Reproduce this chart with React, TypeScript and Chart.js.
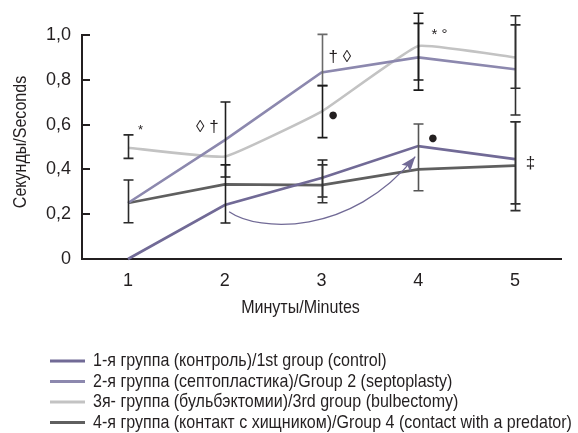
import React, { useEffect, useRef } from "react";
import { Chart, registerables } from "chart.js";

Chart.register(...registerables);

// ---- data ----
const minutes = [1, 2, 3, 4, 5];
const xTickLabels = ["1", "2", "3", "4", "5"];
const yTickValues = [0, 0.2, 0.4, 0.6, 0.8, 1.0];
const yTickLabels = ["0", "0,2", "0,4", "0,6", "0,8", "1,0"];

const group1 = [0, 0.241, 0.362, 0.504, 0.446];
const group2 = [0.25, 0.531, 0.833, 0.9, 0.847];
const group3 = [0.497, 0.457, 0.658, 0.951, 0.9];
const group4 = [0.25, 0.333, 0.33, 0.4, 0.417];

const seriesLabels = [
  "1-я группа (контроль)/1st group (control)",
  "2-я группа (септопластика)/Group 2 (septoplasty)",
  "3я- группа (бульбэктомии)/3rd group (bulbectomy)",
  "4-я группа (контакт с хищником)/Group 4 (contact with a predator)",
];
const seriesColors = ["#716a96", "#8c88ae", "#c3c3c3", "#5f5f5f"];
const seriesTension = [0, 0, 0.1, 0];

// error bars (minute, low, high, colour)
const errX = [1, 1, 2, 2, 3, 3, 3, 3, 4, 4, 4, 5, 5, 5, 5];
const errLow = [0.449, 0.162, 0.366, 0.161, 0.774, 0.542, 0.277, 0.251, 0.799, 0.754, 0.305, 0.762, 0.643, 0.246, 0.216];
const errHigh = [0.554, 0.353, 0.701, 0.42, 1.003, 0.774, 0.442, 0.42, 1.097, 1.052, 0.603, 1.086, 1.045, 0.613, 0.613];
const errColor = [
  "#2a2a2a", "#2a2a2a", "#1e1e1e", "#1e1e1e",
  "#6a6a6a", "#1a1a1a", "#222222", "#333333",
  "#1a1a1a", "#1a1a1a", "#555555",
  "#2e2e2e", "#2e2e2e", "#2e2e2e", "#2e2e2e",
];

// significance marks (text, minute, value, size)
const annText = ["*", "◊ †", "† ◊", "●", "* °", "●", "‡"];
const annX = [1.13, 1.82, 3.19, 3.12, 4.22, 4.15, 5.16];
const annY = [0.573, 0.59, 0.9, 0.64, 1.0, 0.539, 0.427];
const annSize = [13, 17, 17, 10, 15, 10, 17];

// curved arrow (cubic bezier control points, in minute/value space)
const arrowX = [2.045, 2.35, 3.3, 3.969];
const arrowY = [0.211, 0.12, 0.1, 0.457];
const arrowColor = "#716a96";

const xTitle = "Минуты/Minutes";
const yTitle = "Секунды/Seconds";

const FONT = '"Liberation Sans", Arial, sans-serif';
const DOT_FONT = '"DejaVu Sans", sans-serif';
const TEXT = "#231f20";
const NARROW = 0.867;
const LABEL_SIZE = 18.5;

function condensedText(ctx: any, text: string, x: number, y: number, size: number, align: string, rot = 0) {
  ctx.save();
  ctx.translate(x, y);
  if (rot) ctx.rotate(rot);
  ctx.scale(NARROW, 1);
  ctx.font = `${size}px ${FONT}`;
  ctx.fillStyle = TEXT;
  ctx.textAlign = align;
  ctx.textBaseline = "middle";
  ctx.fillText(text, 0, 0);
  ctx.restore();
}

const extrasPlugin = {
  id: "extras",
  afterDatasetsDraw(chart: any) {
    const { ctx, scales } = chart;
    const xs = scales.x;
    const ys = scales.y;
    ctx.save();
    // error bars
    for (let i = 0; i < errX.length; i++) {
      const px = Math.round(xs.getPixelForValue(errX[i])) + 0.5;
      const pLo = ys.getPixelForValue(errLow[i]);
      const pHi = ys.getPixelForValue(errHigh[i]);
      ctx.strokeStyle = errColor[i];
      ctx.lineWidth = 1.6;
      ctx.beginPath();
      ctx.moveTo(px, pLo);
      ctx.lineTo(px, pHi);
      ctx.moveTo(px - 5, pLo);
      ctx.lineTo(px + 5, pLo);
      ctx.moveTo(px - 5, pHi);
      ctx.lineTo(px + 5, pHi);
      ctx.stroke();
    }
    // arrow
    const ax = arrowX.map((v) => xs.getPixelForValue(v));
    const ay = arrowY.map((v) => ys.getPixelForValue(v));
    ctx.strokeStyle = arrowColor;
    ctx.lineWidth = 1.3;
    ctx.beginPath();
    ctx.moveTo(ax[0], ay[0]);
    ctx.bezierCurveTo(ax[1], ay[1], ax[2], ay[2], ax[3], ay[3]);
    ctx.stroke();
    const dx = ax[3] - ax[2];
    const dy = ay[3] - ay[2];
    const len = Math.hypot(dx, dy);
    const ux = dx / len;
    const uy = dy / len;
    const hl = 15;
    const hw = 5.5;
    const bx = ax[3] - ux * hl;
    const by = ay[3] - uy * hl;
    ctx.fillStyle = arrowColor;
    ctx.beginPath();
    ctx.moveTo(ax[3], ay[3]);
    ctx.lineTo(bx - uy * hw, by + ux * hw);
    ctx.lineTo(bx + ux * 3, by + uy * 3);
    ctx.lineTo(bx + uy * hw, by - ux * hw);
    ctx.closePath();
    ctx.fill();
    // significance marks
    ctx.fillStyle = TEXT;
    ctx.textAlign = "center";
    ctx.textBaseline = "middle";
    for (let i = 0; i < annText.length; i++) {
      ctx.font = `${annSize[i]}px ${annText[i] === "●" ? DOT_FONT : FONT}`;
      ctx.fillText(annText[i], xs.getPixelForValue(annX[i]), ys.getPixelForValue(annY[i]));
    }
    ctx.restore();
  },
  afterDraw(chart: any) {
    const { ctx, chartArea, height } = chart;
    // axis titles
    condensedText(ctx, xTitle, (chartArea.left + chartArea.right) / 2 - 21, chartArea.bottom + 49, LABEL_SIZE, "center");
    condensedText(ctx, yTitle, 21, (chartArea.top + chartArea.bottom) / 2 - 5, LABEL_SIZE, "center", -Math.PI / 2);
    // legend
    const top = height - 72;
    chart.data.datasets.forEach((ds: any, i: number) => {
      const y = top + i * 20.5;
      ctx.save();
      ctx.strokeStyle = ds.borderColor;
      ctx.lineWidth = 3;
      ctx.beginPath();
      ctx.moveTo(50, y);
      ctx.lineTo(85, y);
      ctx.stroke();
      ctx.restore();
      condensedText(ctx, ds.label, 93, y, LABEL_SIZE, "left");
    });
  },
};

export default function App() {
  const canvasRef = useRef<HTMLCanvasElement | null>(null);

  useEffect(() => {
    const canvas = canvasRef.current;
    if (!canvas) return;
    const groups = [group1, group2, group3, group4];
    const chart = new Chart(canvas, {
      type: "line",
      data: {
        datasets: groups.map((g, gi) => ({
          label: seriesLabels[gi],
          data: minutes.map((m, i) => ({ x: m, y: g[i] })),
          borderColor: seriesColors[gi],
          backgroundColor: seriesColors[gi],
          borderWidth: 2.6,
          pointRadius: 0,
          tension: seriesTension[gi],
          clip: false as any,
        })),
      },
      options: {
        responsive: false,
        animation: false,
        layout: { padding: { left: 0, top: 35, right: 17, bottom: 144 } },
        plugins: { legend: { display: false }, tooltip: { enabled: false } },
        scales: {
          x: {
            type: "linear",
            min: 0.5245,
            max: 5.4755,
            grid: { display: false, drawTicks: false },
            border: { display: true, color: TEXT, width: 2 },
            ticks: {
              padding: 11,
              color: TEXT,
              font: { family: FONT, size: 18 },
              callback: (v: any) => {
                const k = minutes.indexOf(Number(v));
                return k >= 0 ? xTickLabels[k] : "";
              },
            },
            afterBuildTicks: (s: any) => {
              s.ticks = minutes.map((v) => ({ value: v }));
            },
            afterFit: (s: any) => {
              s.height = 30;
            },
          },
          y: {
            type: "linear",
            min: 0,
            max: 1,
            grid: {
              display: true,
              drawOnChartArea: false,
              drawTicks: true,
              tickLength: -8,
              color: TEXT,
              lineWidth: 2,
            },
            border: { display: true, color: TEXT, width: 2 },
            ticks: {
              padding: 19,
              color: TEXT,
              font: { family: FONT, size: 18 },
              callback: (v: any) => {
                const k = yTickValues.findIndex((t) => Math.abs(t - Number(v)) < 1e-6);
                return k >= 0 ? yTickLabels[k] : "";
              },
            },
            afterBuildTicks: (s: any) => {
              s.ticks = yTickValues.map((v) => ({ value: v }));
            },
            afterFit: (s: any) => {
              s.width = 82;
            },
          },
        },
      },
      plugins: [extrasPlugin],
    });
    return () => chart.destroy();
  }, []);

  return (
    <div style={{ position: "absolute", left: 0, top: 0, width: 578, height: 433, background: "#fff" }}>
      <canvas ref={canvasRef} width={578} height={433} style={{ display: "block" }} />
    </div>
  );
}
